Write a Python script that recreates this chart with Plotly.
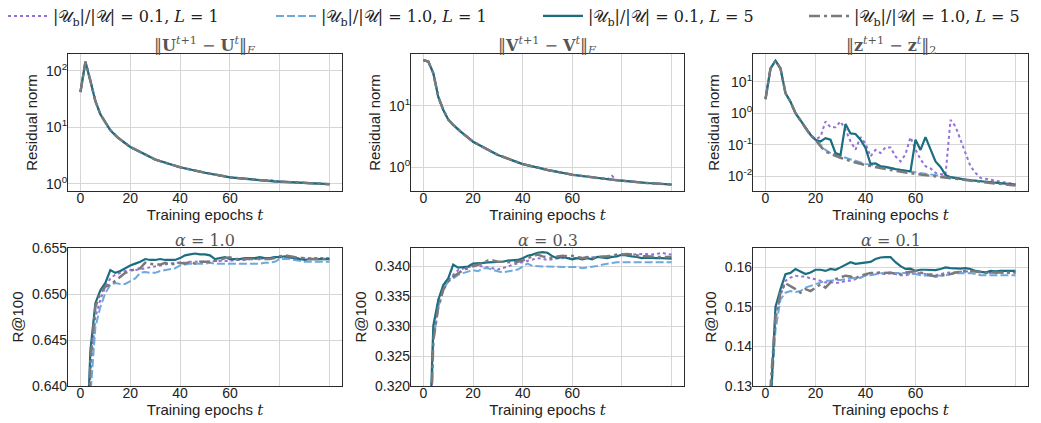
import plotly.graph_objects as go
from plotly.subplots import make_subplots

# ---------------- data ----------------
epochs = list(range(0, 101, 2))

# residual norms ||U^{t+1}-U^t||_F (sparse epochs)
res_epochs = [0, 2, 4, 6, 8, 10, 12, 15, 20, 25, 30, 40, 50, 60, 70, 74, 76, 78, 80, 90, 100]
U_01_L1 = [42, 144, 66, 29, 17, 12, 8.9, 6.6, 4.5, 3.5, 2.7, 1.97, 1.58, 1.31, 1.18, 1.15, 1.19, 1.12, 1.1, 1.03, 0.99]
U_10_L1 = [42, 144, 66, 29, 17, 12, 8.9, 6.6, 4.5, 3.5, 2.7, 1.97, 1.58, 1.31, 1.18, 1.15, 1.13, 1.11, 1.1, 1.03, 0.99]
U_01_L5 = [42, 144, 66, 29, 17, 12, 8.9, 6.6, 4.5, 3.5, 2.7, 1.97, 1.58, 1.31, 1.18, 1.15, 1.13, 1.11, 1.1, 1.03, 0.99]
U_10_L5 = [42, 144, 66, 29, 17, 12, 8.9, 6.6, 4.5, 3.5, 2.7, 1.97, 1.58, 1.31, 1.18, 1.15, 1.13, 1.11, 1.1, 1.03, 0.99]

V_01_L1 = [56, 53, 34, 14, 8.6, 6.0, 4.9, 3.8, 2.6, 2.0, 1.58, 1.12, 0.9, 0.75, 0.66, 0.63, 0.72, 0.61, 0.6, 0.55, 0.52]
V_10_L1 = [56, 53, 34, 14, 8.6, 6.0, 4.9, 3.8, 2.6, 2.0, 1.58, 1.12, 0.9, 0.75, 0.66, 0.63, 0.62, 0.61, 0.6, 0.55, 0.52]
V_01_L5 = [56, 53, 34, 14, 8.6, 6.0, 4.9, 3.8, 2.6, 2.0, 1.58, 1.12, 0.9, 0.75, 0.66, 0.63, 0.62, 0.61, 0.6, 0.55, 0.52]
V_10_L5 = [56, 53, 34, 14, 8.6, 6.0, 4.9, 3.8, 2.6, 2.0, 1.58, 1.12, 0.9, 0.75, 0.66, 0.63, 0.62, 0.61, 0.6, 0.55, 0.52]

# ||z^{t+1}-z^t||_2
z_01_L1 = [2.8, 26, 46, 26, 4.3, 2.3, 1.0, 0.59, 0.34, 0.21, 0.15, 0.18, 0.55, 0.36, 0.36, 0.55, 0.3, 0.13,
           0.07, 0.175, 0.11, 0.043, 0.069, 0.055, 0.083, 0.083, 0.043, 0.03, 0.05, 0.175, 0.07, 0.035, 0.021,
           0.018, 0.013, 0.012, 0.011, 0.62, 0.38, 0.145, 0.055, 0.021, 0.013, 0.009, 0.0085, 0.0078, 0.0072,
           0.0068, 0.0064, 0.006, 0.0057]
z_01_L5 = [2.8, 26, 46, 26, 4.3, 2.3, 1.0, 0.59, 0.34, 0.21, 0.145, 0.128, 0.163, 0.145, 0.055, 0.048, 0.46,
           0.23, 0.22, 0.145, 0.08, 0.025, 0.026, 0.021, 0.020, 0.018, 0.017, 0.016, 0.015, 0.0145, 0.145, 0.069,
           0.175, 0.069, 0.03, 0.02, 0.0112, 0.0095, 0.0088, 0.0083, 0.0079, 0.0076, 0.0073, 0.0070, 0.0068,
           0.0066, 0.0064, 0.0062, 0.0060, 0.0058, 0.0055]
z_sparse_epochs = [0, 2, 4, 6, 8, 10, 12, 14, 16, 18, 20, 22, 24, 26, 30, 35, 40, 50, 60, 70, 80, 90, 100]
z_10_L1 = [2.8, 26, 46, 26, 4.3, 2.3, 1.0, 0.59, 0.32, 0.2, 0.145, 0.1, 0.069, 0.055, 0.043, 0.033, 0.025,
           0.018, 0.0135, 0.0105, 0.008, 0.0066, 0.0055]
z_10_L5 = [2.8, 26, 46, 26, 4.3, 2.3, 1.0, 0.59, 0.33, 0.2, 0.145, 0.09, 0.062, 0.052, 0.039, 0.029, 0.023,
           0.016, 0.012, 0.0095, 0.0075, 0.0062, 0.0052]

# R@100, alpha = 1.0
r1_01_L1 = [0.55, 0.62, 0.6413, 0.6475, 0.6494, 0.6508, 0.6517, 0.6521, 0.6523, 0.6525, 0.6526, 0.6526, 0.6527,
            0.6528, 0.6529, 0.6530, 0.6531, 0.6532, 0.6533, 0.6534, 0.6534, 0.6534, 0.6535, 0.6535, 0.6535,
            0.6535, 0.6535, 0.6536, 0.6536, 0.6536, 0.6536, 0.6537, 0.6537, 0.6537, 0.6538, 0.6538, 0.6538,
            0.6539, 0.6539, 0.6540, 0.6540, 0.6540, 0.6539, 0.6539, 0.6539, 0.6539, 0.6539, 0.6539, 0.6539,
            0.6539, 0.6539]
r1_10_L1 = [0.55, 0.62, 0.6390, 0.6464, 0.6486, 0.6501, 0.6510, 0.6512, 0.6511, 0.6511, 0.6514, 0.6517, 0.6523,
            0.6524, 0.6523, 0.6523, 0.6525, 0.6526, 0.6527, 0.6528, 0.6531, 0.6532, 0.6533, 0.6533, 0.6533,
            0.6533, 0.6534, 0.6533, 0.6533, 0.6533, 0.6533, 0.6533, 0.6533, 0.6533, 0.6533, 0.6533, 0.6533,
            0.6534, 0.6534, 0.6535, 0.6538, 0.6538, 0.6538, 0.6537, 0.6536, 0.6535, 0.6535, 0.6535, 0.6535,
            0.6535, 0.6535]
r1_01_L5 = [0.55, 0.630, 0.6439, 0.6490, 0.6504, 0.6512, 0.6526, 0.6523, 0.6525, 0.6528, 0.6531, 0.6533, 0.6535,
            0.6538, 0.6537, 0.6537, 0.6538, 0.6537, 0.6537, 0.6537, 0.6539, 0.6542, 0.6543, 0.6544, 0.6543,
            0.6543, 0.6542, 0.6538, 0.6539, 0.6540, 0.6538, 0.6538, 0.6538, 0.6539, 0.6539, 0.6539, 0.6540,
            0.6539, 0.6539, 0.6540, 0.6540, 0.6541, 0.6540, 0.6539, 0.6538, 0.6537, 0.6538, 0.6538, 0.6538,
            0.6538, 0.6538]
r1_10_L5 = [0.55, 0.625, 0.6428, 0.6486, 0.6501, 0.6508, 0.6510, 0.6514, 0.6519, 0.6523, 0.6525, 0.6527, 0.6528,
            0.6534, 0.6533, 0.6532, 0.6532, 0.6534, 0.6532, 0.6533, 0.6534, 0.6533, 0.6535, 0.6533, 0.6535,
            0.6535, 0.6535, 0.6536, 0.6537, 0.6539, 0.6540, 0.6538, 0.6538, 0.6538, 0.6538, 0.6538, 0.6538,
            0.6538, 0.6538, 0.6539, 0.6541, 0.6542, 0.6541, 0.6540, 0.6539, 0.6539, 0.6538, 0.6538, 0.6538,
            0.6538, 0.6538]

# R@100, alpha = 0.3
r3_01_L1 = [0.28, 0.300, 0.3293, 0.3344, 0.3366, 0.3377, 0.3386, 0.3394, 0.3397, 0.3399, 0.3400, 0.3401, 0.3400,
            0.3399, 0.3397, 0.3395, 0.3397, 0.3400, 0.3403, 0.3405, 0.3407, 0.3410, 0.3412, 0.3414, 0.3413,
            0.3411, 0.3412, 0.3414, 0.3414, 0.3414, 0.3414, 0.3414, 0.3414, 0.3414, 0.3415, 0.3416, 0.3416,
            0.3417, 0.3417, 0.3418, 0.3418, 0.3419, 0.3420, 0.3421, 0.3421, 0.3421, 0.3420, 0.3421, 0.3423,
            0.3421, 0.3420]
r3_10_L1 = [0.28, 0.300, 0.3276, 0.3332, 0.3361, 0.3375, 0.3380, 0.3386, 0.3389, 0.3392, 0.3394, 0.3392, 0.3397,
            0.3397, 0.3394, 0.3392, 0.3390, 0.3392, 0.3393, 0.3395, 0.3400, 0.3405, 0.3401, 0.3400, 0.3400,
            0.3400, 0.3400, 0.3400, 0.3400, 0.3399, 0.3399, 0.3399, 0.3397, 0.3398, 0.3399, 0.3401, 0.3403,
            0.3405, 0.3406, 0.3407, 0.3407, 0.3407, 0.3407, 0.3407, 0.3407, 0.3407, 0.3407, 0.3407, 0.3407,
            0.3407, 0.3407]
r3_01_L5 = [0.28, 0.305, 0.3301, 0.3344, 0.3369, 0.3380, 0.3403, 0.3398, 0.3399, 0.3400, 0.3405, 0.3405, 0.3406,
            0.3407, 0.3407, 0.3407, 0.3408, 0.3410, 0.3410, 0.3411, 0.3414, 0.3418, 0.3420, 0.3423, 0.3424,
            0.3423, 0.3417, 0.3414, 0.3416, 0.3414, 0.3412, 0.3414, 0.3412, 0.3414, 0.3412, 0.3416, 0.3415,
            0.3414, 0.3416, 0.3417, 0.3420, 0.3418, 0.3417, 0.3416, 0.3414, 0.3415, 0.3414, 0.3414, 0.3414,
            0.3414, 0.3413]
r3_10_L5 = [0.28, 0.300, 0.3276, 0.3332, 0.3361, 0.3375, 0.3383, 0.3389, 0.3394, 0.3397, 0.3401, 0.3403, 0.3407,
            0.3410, 0.3410, 0.3408, 0.3408, 0.3407, 0.3407, 0.3408, 0.3410, 0.3414, 0.3417, 0.3420, 0.3417,
            0.3416, 0.3414, 0.3417, 0.3418, 0.3417, 0.3418, 0.3416, 0.3414, 0.3416, 0.3414, 0.3416, 0.3416,
            0.3417, 0.3418, 0.3420, 0.3420, 0.3421, 0.3420, 0.3418, 0.3417, 0.3417, 0.3416, 0.3416, 0.3416,
            0.3416, 0.3416]

# R@100, alpha = 0.1
r01_01_L1 = [0.09, 0.127, 0.1468, 0.1528, 0.1566, 0.1574, 0.1579, 0.1577, 0.1577, 0.1572, 0.1570, 0.1566, 0.1562,
             0.1563, 0.1560, 0.1562, 0.1566, 0.1566, 0.1570, 0.1574, 0.1580, 0.1586, 0.1586, 0.1583, 0.1583,
             0.1585, 0.1583, 0.1580, 0.1580, 0.1583, 0.1586, 0.1585, 0.1583, 0.1583, 0.1580, 0.1583, 0.1586,
             0.1587, 0.1587, 0.1589, 0.1589, 0.1591, 0.1591, 0.1589, 0.1587, 0.1586, 0.1586, 0.1586, 0.1586,
             0.1587, 0.1587]
r01_10_L1 = [0.09, 0.125, 0.1442, 0.1519, 0.1536, 0.1540, 0.1538, 0.1540, 0.1549, 0.1553, 0.1557, 0.1562, 0.1566,
             0.1566, 0.1568, 0.1568, 0.1570, 0.1572, 0.1574, 0.1574, 0.1579, 0.1580, 0.1583, 0.1585, 0.1586,
             0.1586, 0.1586, 0.1586, 0.1586, 0.1583, 0.1583, 0.1580, 0.1579, 0.1579, 0.1579, 0.1580, 0.1580,
             0.1583, 0.1585, 0.1586, 0.1585, 0.1586, 0.1583, 0.1580, 0.1580, 0.1580, 0.1580, 0.1580, 0.1580,
             0.1580, 0.1580]
r01_01_L5 = [0.09, 0.125, 0.1500, 0.1545, 0.1583, 0.1586, 0.1596, 0.1589, 0.1583, 0.1587, 0.1594, 0.1594, 0.1591,
             0.1596, 0.1594, 0.1600, 0.1606, 0.1613, 0.1609, 0.1611, 0.1613, 0.1614, 0.1621, 0.1625, 0.1626,
             0.1626, 0.1613, 0.1603, 0.1596, 0.1597, 0.1591, 0.1594, 0.1594, 0.1593, 0.1593, 0.1596, 0.1600,
             0.1598, 0.1597, 0.1597, 0.1598, 0.1596, 0.1591, 0.1589, 0.1587, 0.1591, 0.1590, 0.1591, 0.1591,
             0.1591, 0.1591]
r01_10_L5 = [0.09, 0.1297, 0.1476, 0.1536, 0.1560, 0.1553, 0.1545, 0.1536, 0.1545, 0.1540, 0.1549, 0.1557, 0.1549,
             0.1562, 0.1570, 0.1574, 0.1579, 0.1577, 0.1572, 0.1579, 0.1583, 0.1586, 0.1586, 0.1587, 0.1586,
             0.1587, 0.1583, 0.1583, 0.1587, 0.1589, 0.1591, 0.1587, 0.1583, 0.1580, 0.1577, 0.1579, 0.1580,
             0.1583, 0.1587, 0.1589, 0.1591, 0.1591, 0.1589, 0.1587, 0.1586, 0.1587, 0.1587, 0.1587, 0.1587,
             0.1587, 0.1587]

series_names = [
    "|𝒰<sub>b</sub>|/|𝒰| = 0.1, <i>L</i> = 1",
    "|𝒰<sub>b</sub>|/|𝒰| = 1.0, <i>L</i> = 1",
    "|𝒰<sub>b</sub>|/|𝒰| = 0.1, <i>L</i> = 5",
    "|𝒰<sub>b</sub>|/|𝒰| = 1.0, <i>L</i> = 5",
]
subplot_titles = [
    "‖<b>U</b><sup><i>t</i>+1</sup> − <b>U</b><sup><i>t</i></sup>‖<sub><i>F</i></sub>",
    "‖<b>V</b><sup><i>t</i>+1</sup> − <b>V</b><sup><i>t</i></sup>‖<sub><i>F</i></sub>",
    "‖<b>z</b><sup><i>t</i>+1</sup> − <b>z</b><sup><i>t</i></sup>‖<sub>2</sub>",
    "<i>α</i> = 1.0", "<i>α</i> = 0.3", "<i>α</i> = 0.1",
]
x_tick_vals = [0, 20, 40, 60]
x_tick_text = ["0", "20", "40", "60"]
x_extra_grid = [80, 100]

# ---------------- styles / layout ----------------
colors = ["#9370DB", "#6FA8DC", "#1A6E80", "#7A7A7A"]
dashes = ["dot", "8px,3px", "solid", "11px,4px,3px,4px"]
widths = [2, 2, 2.2, 2.5]

SANS = "Liberation Sans, Arial, sans-serif"
SERIF = "DejaVu Serif, Liberation Serif, serif"

OFF = 8                        # page body margin
PW, PH = 1041, 423             # page (window) size
W, H = PW - OFF, PH - OFF      # figure size

legend_line_px = [7, 275, 542, 808]   # page x where each legend sample starts
col_px = [(68, 342), (411, 684), (753, 1028)]   # page x of each axes box
row_px = [(54, 191), (248, 386)]                # page y of each axes box
title_y_px = [46, 240]


def fx(p):
    return (p - OFF) / W


def fy(p):
    return 1 - (p - OFF) / H


fig = make_subplots(rows=2, cols=3)

panels = [
    (1, 1, [(res_epochs, U_01_L1), (res_epochs, U_10_L1), (res_epochs, U_01_L5), (res_epochs, U_10_L5)]),
    (1, 2, [(res_epochs, V_01_L1), (res_epochs, V_10_L1), (res_epochs, V_01_L5), (res_epochs, V_10_L5)]),
    (1, 3, [(epochs, z_01_L1), (z_sparse_epochs, z_10_L1), (epochs, z_01_L5), (z_sparse_epochs, z_10_L5)]),
    (2, 1, [(epochs, r1_01_L1), (epochs, r1_10_L1), (epochs, r1_01_L5), (epochs, r1_10_L5)]),
    (2, 2, [(epochs, r3_01_L1), (epochs, r3_10_L1), (epochs, r3_01_L5), (epochs, r3_10_L5)]),
    (2, 3, [(epochs, r01_01_L1), (epochs, r01_10_L1), (epochs, r01_01_L5), (epochs, r01_10_L5)]),
]

legend_ids = ["legend", "legend2", "legend3", "legend4"]
for pi, (r, c, data) in enumerate(panels):
    for si, (xs, ys) in enumerate(data):
        fig.add_trace(go.Scatter(
            x=xs, y=ys, mode="lines", name=series_names[si],
            legendgroup=str(si), showlegend=(pi == 0), legend=legend_ids[si],
            line=dict(color=colors[si], dash=dashes[si], width=widths[si]),
        ), row=r, col=c)

axis_common = dict(
    showline=True, linecolor="#2b2b2b", linewidth=1.2, mirror=True,
    showgrid=True, gridcolor="#d6d6d6", gridwidth=1, zeroline=False,
    ticks="", tickfont=dict(family=SANS, size=14, color="#222"), automargin=False,
)

y_specs = [
    dict(type="log", range=[-0.124, 2.295], tickvals=[1, 10, 100],
         ticktext=["10<sup>0</sup>", "10<sup>1</sup>", "10<sup>2</sup>"], title="Residual norm"),
    dict(type="log", range=[-0.39, 1.848], tickvals=[1, 10],
         ticktext=["10<sup>0</sup>", "10<sup>1</sup>"], title="Residual norm"),
    dict(type="log", range=[-2.46, 1.874], tickvals=[0.01, 0.1, 1, 10],
         ticktext=["10<sup>-2</sup>", "10<sup>-1</sup>", "10<sup>0</sup>", "10<sup>1</sup>"], title="Residual norm"),
    dict(range=[0.640, 0.655], tickvals=[0.640, 0.645, 0.650, 0.655],
         ticktext=["0.640", "0.645", "0.650", "0.655"], title="R@100"),
    dict(range=[0.320, 0.3431], tickvals=[0.320, 0.325, 0.330, 0.335, 0.340],
         ticktext=["0.320", "0.325", "0.330", "0.335", "0.340"], title="R@100"),
    dict(range=[0.130, 0.1649], tickvals=[0.13, 0.14, 0.15, 0.16],
         ticktext=["0.13", "0.14", "0.15", "0.16"], title="R@100"),
]

annotations = []
for i in range(6):
    r, c = divmod(i, 3)
    x0, x1 = col_px[c]
    y0, y1 = row_px[r]
    xname = "xaxis" if i == 0 else f"xaxis{i + 1}"
    yname = "yaxis" if i == 0 else f"yaxis{i + 1}"
    spec = dict(y_specs[i])
    ytitle = spec.pop("title")
    fig.layout[xname].update(
        domain=[fx(x0), fx(x1)], range=[-5, 105],
        tickvals=x_tick_vals, ticktext=x_tick_text, ticklabelstandoff=-6,
        minor=dict(tickvals=x_extra_grid, showgrid=True, gridcolor="#d6d6d6", gridwidth=1, ticks=""),
        title=dict(text="Training epochs <span style=\"font-family:DejaVu Serif\"><i>t</i></span>",
                   font=dict(family=SANS, size=15, color="#222"), standoff=2),
        **axis_common,
    )
    fig.layout[yname].update(
        domain=[fy(y1), fy(y0)], ticklabelstandoff=-3,
        title=dict(text=ytitle, font=dict(family=SANS, size=15, color="#222"), standoff=4),
        **spec, **axis_common,
    )
    annotations.append(dict(
        text=subplot_titles[i], xref="paper", yref="paper",
        x=fx((x0 + x1) / 2), y=fy(title_y_px[r]), xanchor="center", yanchor="middle",
        showarrow=False, font=dict(family=SERIF, size=16, color="#555"),
    ))

legend_layout = {}
for si, lid in enumerate(legend_ids):
    legend_layout[lid] = dict(
        orientation="h", x=(legend_line_px[si] - OFF - 4) / W, xanchor="left",
        y=1 + 9 / H, yanchor="top",
        itemwidth=40, font=dict(family=SERIF, size=16, color="#222"),
        bgcolor="rgba(0,0,0,0)",
    )

fig.update_layout(
    width=W, height=H,
    margin=dict(l=0, r=0, t=0, b=0, autoexpand=False),
    paper_bgcolor="white", plot_bgcolor="white",
    annotations=annotations,
    **legend_layout,
)

fig.write_html("out.html")
